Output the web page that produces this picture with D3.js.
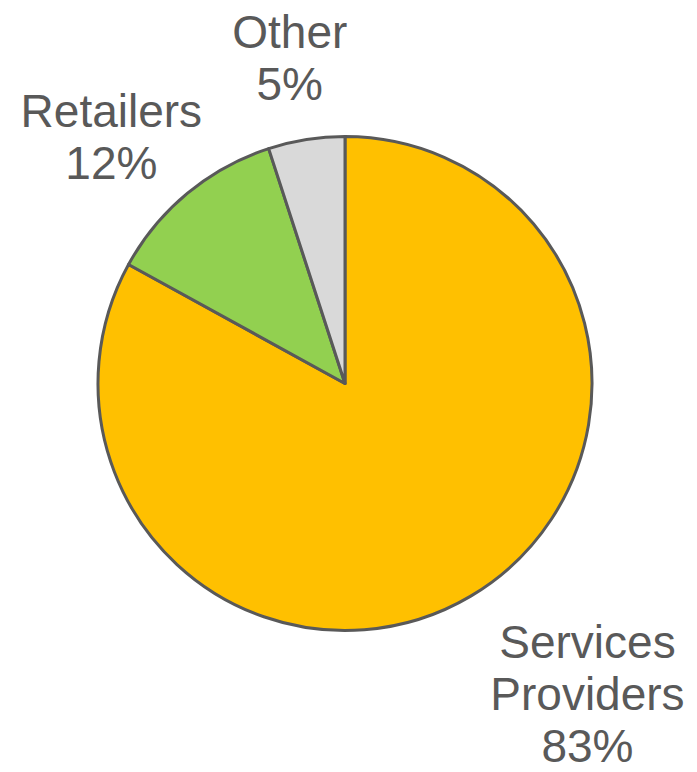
<!DOCTYPE html>
<html>
<head>
<meta charset="utf-8">
<script src="https://cdn.jsdelivr.net/npm/d3@7"></script>
<style>
  html, body { margin: 0; padding: 0; background: #fff; }
  svg { display: block; }
</style>
</head>
<body>
<svg id="chart" width="697" height="772"></svg>
<script>
// Data
const categories = ["Services Providers", "Retailers", "Other"];
const labelLines = [["Services", "Providers"], ["Retailers"], ["Other"]];
const values = [83, 12, 5];
const colors = ["#FFC000", "#92D050", "#D9D9D9"];

// Layout (kept apart from the data)
const cx = 345, cy = 383.5, radius = 247;
const labelRadiusFactor = 1.3;
const labelNudges = [[79, 34], [-29, 0], [-5, -9]];
const fontSize = 46, lineHeight = 52, capH = 33;

const svg = d3.select("#chart");
const g = svg.append("g").attr("transform", `translate(${cx},${cy})`);

const pie = d3.pie().sort(null).value(d => d.value);
const arcs = pie(categories.map((c, i) => ({ name: c, value: values[i], i })));

const arc = d3.arc().innerRadius(0).outerRadius(radius);
const labelArc = d3.arc()
  .innerRadius(radius * labelRadiusFactor)
  .outerRadius(radius * labelRadiusFactor);

g.selectAll("path.slice")
  .data(arcs)
  .join("path")
  .attr("class", "slice")
  .attr("d", arc)
  .attr("fill", d => colors[d.data.i])
  .attr("stroke", "#595959")
  .attr("stroke-width", 3)
  .attr("stroke-linejoin", "round");

const fmt = d3.format(".0f");

arcs.forEach(d => {
  const [x0, y0] = labelArc.centroid(d);
  const nudge = labelNudges[d.data.i];
  const x = x0 + nudge[0];
  const ymid = y0 + nudge[1];
  const lines = labelLines[d.data.i].concat([fmt(d.data.value) + "%"]);
  const n = lines.length;
  const firstBaseline = ymid - (n - 1) * lineHeight / 2 + capH / 2;
  lines.forEach((ln, k) => {
    g.append("text")
      .attr("class", "label")
      .attr("x", x)
      .attr("y", firstBaseline + k * lineHeight)
      .attr("text-anchor", "middle")
      .attr("font-family", "'Liberation Sans', Arial, sans-serif")
      .attr("font-size", fontSize)
      .attr("fill", "#595959")
      .text(ln);
  });
});
</script>
</body>
</html>
